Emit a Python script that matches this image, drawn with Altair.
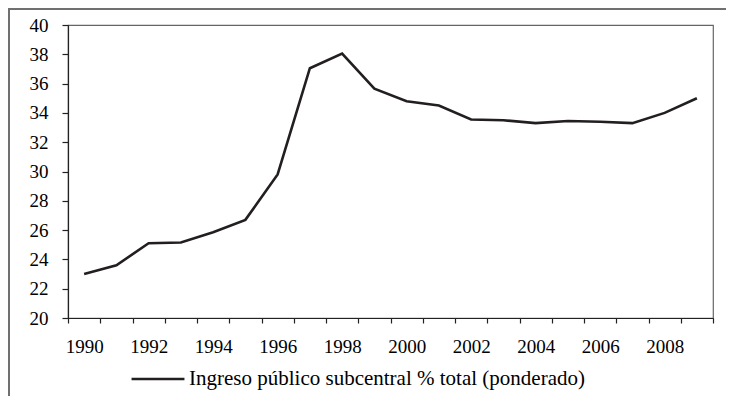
import altair as alt
import pandas as pd

years = list(range(1990, 2010))
values = [23.0, 23.6, 25.1, 25.15, 25.85, 26.7, 29.8, 37.05, 38.05, 35.65,
          34.8, 34.5, 33.55, 33.5, 33.3, 33.45, 33.4, 33.3, 34.0, 35.0]
series_name = "Ingreso público subcentral % total (ponderado)"
y_ticks = list(range(20, 41, 2))

year_labels = [str(y) for y in years]
df = pd.DataFrame({"year": year_labels, "value": values, "serie": series_name})

W, H = 645, 293
FONT = "Liberation Serif, Times New Roman, serif"
FS = 19
INK = "#231f20"

line = alt.Chart(df).mark_line(strokeWidth=2.6).encode(
    x=alt.X(
        "year:O",
        sort=year_labels,
        bandPosition=0.5,
        scale=alt.Scale(type="band", paddingInner=0, paddingOuter=0),
        axis=alt.Axis(
            title=None, labelAngle=0, tickBand="extent", labelOverlap=False,
            labelExpr="toNumber(datum.value) % 2 == 0 ? datum.label : ''",
            labelFont=FONT, labelFontSize=FS, labelColor="#000",
            domainColor="#222", tickColor="#222", tickSize=5, labelPadding=14,
            domainWidth=1.2, tickWidth=1.2,
        ),
    ),
    y=alt.Y(
        "value:Q",
        scale=alt.Scale(domain=[20, 40], nice=False, zero=False),
        axis=alt.Axis(
            title=None, values=y_ticks, grid=False,
            labelFont=FONT, labelFontSize=FS, labelColor="#000",
            domainColor="#222", tickColor="#222", tickSize=6, labelPadding=14,
            domainWidth=1.2, tickWidth=1.2,
        ),
    ),
    color=alt.Color(
        "serie:N",
        scale=alt.Scale(range=[INK]),
        legend=alt.Legend(
            title=None, orient="none", legendX=62, legendY=326,
            symbolType="stroke", symbolSize=2800, symbolStrokeWidth=2.6,
            labelFont=FONT, labelFontSize=21, labelColor="#000", labelLimit=0,
            labelOffset=3,
        ),
    ),
)

frame_df = pd.DataFrame({"a": [0]})
left_rule = alt.Chart(frame_df).mark_rule(color="#707070", strokeWidth=2).encode(
    x=alt.value(-59), y=alt.value(-16), y2=alt.value(400)
)
top_rule = alt.Chart(frame_df).mark_rule(color="#707070", strokeWidth=2).encode(
    x=alt.value(-60), x2=alt.value(700), y=alt.value(-16)
)

chart = alt.layer(line, left_rule, top_rule).properties(
    width=W, height=H,
    padding={"left": 60, "top": 17, "right": 13, "bottom": 78},
    autosize=alt.AutoSizeParams(type="none"),
).configure(font=FONT).configure_view(stroke="#666", strokeWidth=1.2)

chart.save("out.html", embed_options={"renderer": "svg", "actions": False})
